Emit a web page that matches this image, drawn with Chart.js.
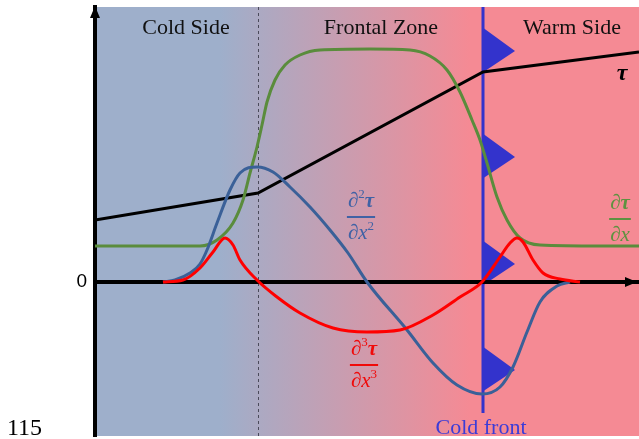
<!DOCTYPE html>
<html lang="en">
<head>
<meta charset="utf-8">
<title>Frontal zone and its derivatives</title>
<script src="https://cdn.jsdelivr.net/npm/chart.js@4.4.1/dist/chart.umd.min.js"></script>
<style>
  html, body { margin: 0; padding: 0; background: #fff; }
  canvas { display: block; }
</style>
</head>
<body>
<canvas id="chart" width="639" height="439"></canvas>
<script>
// x: distance across the front (cold side on the left), y: value, 0 on the axis

// tau, the front variable (piecewise linear)
const tauX = [0, 163, 388, 544];
const tauY = [62, 89, 210, 230];

// first derivative
const d1X = [0, 55, 105, 122, 138, 148, 155, 162, 167, 172, 180, 190, 205, 225, 275,
             315, 335, 352, 365, 377, 385, 392, 402, 412, 425, 445, 505, 544];
const d1Y = [36, 36, 36, 42, 59, 82, 109, 135, 157, 180, 202, 217, 227, 232, 233,
             232, 226, 212, 190, 162, 142, 119, 85, 62, 44, 37, 36, 36];

// second derivative
const d2X = [68, 80, 95, 105, 112, 122, 135, 145, 162, 178, 195, 215, 235, 253, 272,
             312, 338, 362, 387, 405, 418, 432, 445, 462, 475];
const d2Y = [0, 2, 9, 18, 32, 59, 92, 109, 115, 110, 95, 75, 52, 29, 0,
             -48, -81, -103, -112, -105, -85, -50, -20, -4, 0];

// third derivative
const d3X = [68, 88, 105, 118, 130, 138, 145, 162, 182, 205, 238, 272, 305, 338, 365,
             387, 405, 415, 422, 428, 438, 448, 465, 485];
const d3Y = [0, 2, 14, 30, 44, 37, 22, 2, -15, -31, -46, -50, -48, -33, -15,
             0, 25, 39, 44, 40, 22, 9, 3, 0];

const zoneStart = 163;                  // edge of the frontal zone (dashed)
const coldFront = 388;                  // position of the cold front
const frontLineTop = 275;
const frontLineBottom = -131;
const frontMarks = [231, 125, 18, -88]; // tips of the front triangles
const yTicks = [0];

const xMax = 544;
const yMin = -154;
const yMax = 275;

const toPoints = (xs, ys) => xs.map((x, i) => ({ x: x, y: ys[i] }));

function curve(label, xs, ys, color, smooth) {
    return {
        label: label,
        data: toPoints(xs, ys),
        borderColor: color,
        borderWidth: 3,
        pointRadius: 0,
        fill: false,
        tension: 0,
        cubicInterpolationMode: smooth ? 'monotone' : 'default'
    };
}

// fraction like  d tau / d x , parts are [text, kind]
function drawFraction(ctx, cx, ly, num, den, color, size) {
    const fontOf = k => k === 'b' ? 'italic bold ' + size + 'px "Liberation Serif"'
        : k === 's' ? Math.round(size * 0.62) + 'px "Liberation Serif"'
        : 'italic ' + size + 'px "Liberation Serif"';
    const width = parts => parts.reduce((w, p) => {
        ctx.font = fontOf(p[1]);
        return w + ctx.measureText(p[0]).width;
    }, 0);
    const run = (parts, baseline) => {
        let x = cx - width(parts) / 2;
        parts.forEach(p => {
            ctx.font = fontOf(p[1]);
            ctx.fillText(p[0], x, p[1] === 's' ? baseline - size * 0.42 : baseline);
            x += ctx.measureText(p[0]).width;
        });
    };
    ctx.fillStyle = color;
    ctx.strokeStyle = color;
    ctx.textAlign = 'left';
    ctx.textBaseline = 'alphabetic';
    run(num, ly - 10);
    run(den, ly + 22);
    const w = Math.max(width(num), width(den)) + 2;
    ctx.lineWidth = 2;
    ctx.beginPath();
    ctx.moveTo(cx - w / 2, ly);
    ctx.lineTo(cx + w / 2, ly);
    ctx.stroke();
}

const backdrop = {
    id: 'backdrop',
    beforeDraw(chart) {
        const { ctx, chartArea: a, scales: { x, y } } = chart;
        ctx.save();
        const g = ctx.createLinearGradient(x.getPixelForValue(125), 0, x.getPixelForValue(375), 0);
        g.addColorStop(0, 'rgb(158,175,203)');
        g.addColorStop(1, 'rgb(245,138,148)');
        ctx.fillStyle = g;
        ctx.fillRect(a.left, a.top, a.right - a.left, a.bottom - a.top);

        // edge of the frontal zone
        const zx = Math.round(x.getPixelForValue(zoneStart)) + 0.5;
        ctx.strokeStyle = '#4a4a5a';
        ctx.lineWidth = 1;
        ctx.setLineDash([3, 3]);
        ctx.beginPath();
        ctx.moveTo(zx, a.top);
        ctx.lineTo(zx, a.bottom);
        ctx.stroke();
        ctx.setLineDash([]);

        // cold front with its triangles
        const fx = x.getPixelForValue(coldFront);
        ctx.strokeStyle = 'rgb(51,51,204)';
        ctx.fillStyle = 'rgb(51,51,204)';
        ctx.lineWidth = 3;
        ctx.beginPath();
        ctx.moveTo(fx, y.getPixelForValue(frontLineTop));
        ctx.lineTo(fx, y.getPixelForValue(frontLineBottom));
        ctx.stroke();
        frontMarks.forEach(v => {
            const py = y.getPixelForValue(v);
            ctx.beginPath();
            ctx.moveTo(fx - 1, py - 24);
            ctx.lineTo(fx + 32, py);
            ctx.lineTo(fx - 1, py + 22);
            ctx.closePath();
            ctx.fill();
        });
        ctx.restore();
    },
    afterDraw(chart) {
        const { ctx, chartArea: a, scales: { x, y } } = chart;
        ctx.save();

        // axis arrow heads
        const ax = x.getPixelForValue(0);
        const ay = y.getPixelForValue(0);
        ctx.fillStyle = '#000';
        ctx.beginPath();
        ctx.moveTo(ax, a.top - 1);
        ctx.lineTo(ax + 5, a.top + 11);
        ctx.lineTo(ax - 5, a.top + 11);
        ctx.closePath();
        ctx.fill();
        ctx.beginPath();
        ctx.moveTo(a.right - 2, ay);
        ctx.lineTo(a.right - 14, ay - 5);
        ctx.lineTo(a.right - 14, ay + 5);
        ctx.closePath();
        ctx.fill();

        // region names
        ctx.font = '22px "Liberation Serif"';
        ctx.fillStyle = '#111';
        ctx.textAlign = 'center';
        ctx.textBaseline = 'alphabetic';
        ctx.fillText('Cold Side', x.getPixelForValue(91), y.getPixelForValue(248));
        ctx.fillText('Frontal Zone', x.getPixelForValue(286), y.getPixelForValue(248));
        ctx.fillText('Warm Side', x.getPixelForValue(477), y.getPixelForValue(248));

        ctx.font = 'italic bold 24px "Liberation Serif"';
        ctx.fillStyle = '#000';
        ctx.fillText('\u03c4', x.getPixelForValue(527), y.getPixelForValue(202));

        ctx.font = '22px "Liberation Serif"';
        ctx.fillStyle = 'rgb(60,60,215)';
        ctx.fillText('Cold front', x.getPixelForValue(386), y.getPixelForValue(-152));

        ctx.font = '24px "Liberation Serif"';
        ctx.fillStyle = '#000';
        ctx.textAlign = 'left';
        ctx.fillText('115', 7, 435);

        drawFraction(ctx, x.getPixelForValue(525), y.getPixelForValue(63),
            [['\u2202', 'i'], ['\u03c4', 'b']], [['\u2202x', 'i']], 'rgb(94,146,64)', 21);
        drawFraction(ctx, x.getPixelForValue(266), y.getPixelForValue(65),
            [['\u2202', 'i'], ['2', 's'], ['\u03c4', 'b']], [['\u2202x', 'i'], ['2', 's']], 'rgb(64,98,165)', 21);
        drawFraction(ctx, x.getPixelForValue(269), y.getPixelForValue(-83),
            [['\u2202', 'i'], ['3', 's'], ['\u03c4', 'b']], [['\u2202x', 'i'], ['3', 's']], 'rgb(240,10,10)', 21);
        ctx.restore();
    }
};

new Chart(document.getElementById('chart'), {
    type: 'line',
    data: {
        datasets: [
            curve('third derivative', d3X, d3Y, 'rgb(255,0,0)', true),
            curve('second derivative', d2X, d2Y, 'rgb(58,96,152)', true),
            curve('first derivative', d1X, d1Y, 'rgb(90,140,60)', true),
            curve('tau', tauX, tauY, '#000', false)
        ]
    },
    options: {
        responsive: false,
        animation: false,
        devicePixelRatio: 1,
        layout: { padding: { top: 7, bottom: 3, left: 0, right: 0 } },
        plugins: { legend: { display: false }, tooltip: { enabled: false } },
        scales: {
            x: {
                type: 'linear',
                min: 0,
                max: xMax,
                position: { y: 0 },
                grid: { display: false, drawTicks: false },
                ticks: { display: false },
                border: { display: true, color: '#000', width: 4 },
                afterFit: s => { s.height = 0; s.paddingLeft = 0; s.paddingRight = 0; }
            },
            y: {
                type: 'linear',
                min: yMin,
                max: yMax,
                grid: { display: false, drawTicks: false },
                border: { display: true, color: '#000', width: 4 },
                afterBuildTicks: s => { s.ticks = yTicks.map(v => ({ value: v })); },
                afterFit: s => { s.width = 95; s.paddingTop = 0; s.paddingBottom = 0; },
                ticks: {
                    color: '#000',
                    padding: 8,
                    font: { family: '"Liberation Sans", Arial, sans-serif', size: 19 },
                    callback: v => String(v)
                }
            }
        }
    },
    plugins: [backdrop]
});
</script>
</body>
</html>
